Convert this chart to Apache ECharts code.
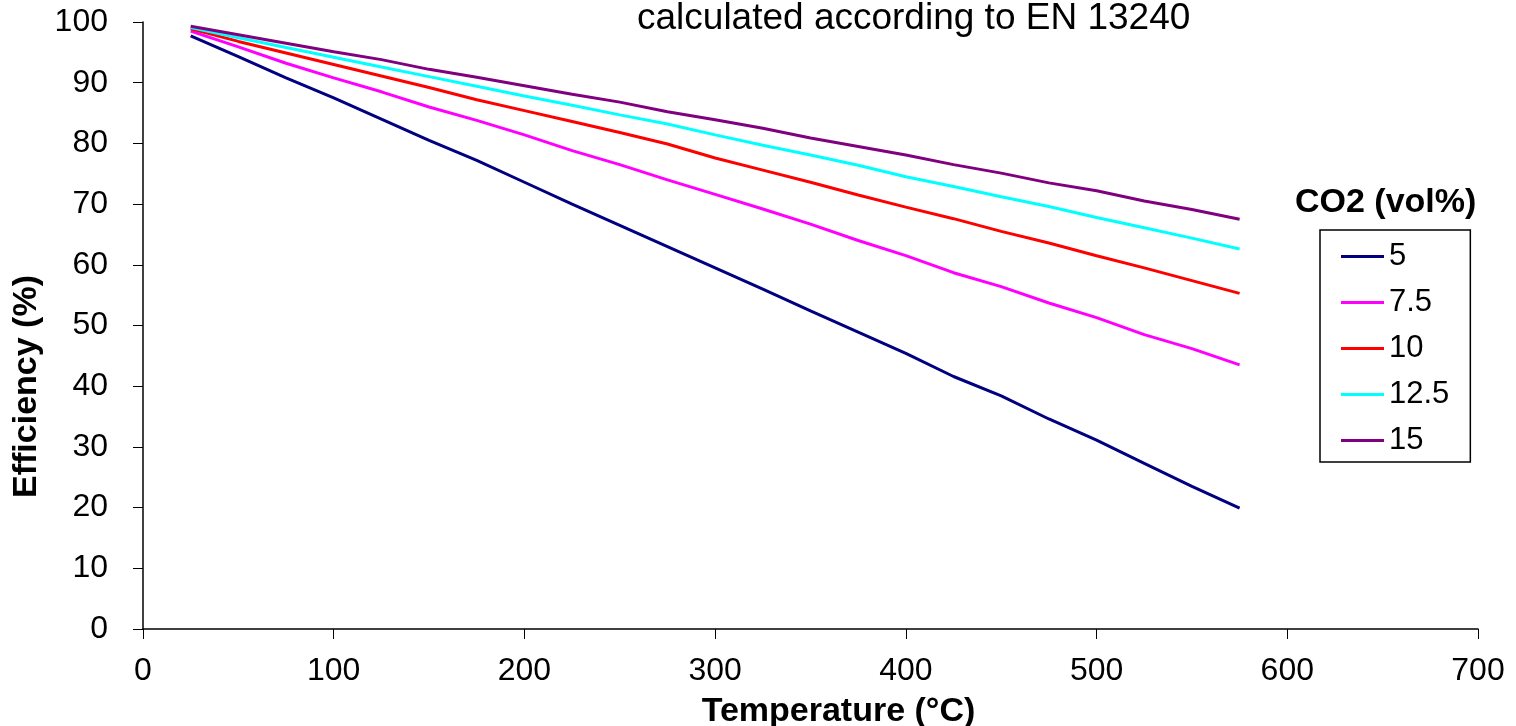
<!DOCTYPE html>
<html>
<head>
<meta charset="utf-8">
<title>Efficiency vs temperature</title>
<script src="https://cdn.jsdelivr.net/npm/echarts@6/dist/echarts.min.js"></script>
<style>
  html, body { margin: 0; padding: 0; background: #fff; }
  #main { width: 1516px; height: 726px; }
</style>
</head>
<body>
<div id="main"></div>
<script>
// flue gas temperature (°C)
var temps = [25, 50, 75, 100, 125, 150, 175, 200, 225, 250, 275, 300, 325, 350, 375, 400, 425, 450, 475, 500, 525, 550, 575];

// efficiency (%) per CO2 content
var co2_5    = [97.7, 94.3, 90.8, 87.5, 84.0, 80.5, 77.2, 73.6, 70.0, 66.5, 63.0, 59.5, 56.0, 52.4, 48.9, 45.4, 41.6, 38.4, 34.6, 31.1, 27.3, 23.5, 19.9];
var co2_7_5  = [98.5, 95.9, 93.2, 90.8, 88.5, 86.0, 83.8, 81.4, 78.8, 76.5, 74.0, 71.6, 69.2, 66.7, 64.0, 61.5, 58.7, 56.4, 53.7, 51.3, 48.5, 46.2, 43.5];
var co2_10   = [98.9, 96.8, 94.9, 93.0, 91.1, 89.2, 87.2, 85.4, 83.6, 81.8, 79.9, 77.6, 75.6, 73.6, 71.5, 69.5, 67.6, 65.5, 63.6, 61.5, 59.5, 57.4, 55.3];
var co2_12_5 = [99.1, 97.4, 95.8, 94.2, 92.6, 91.0, 89.4, 87.8, 86.3, 84.7, 83.2, 81.4, 79.7, 78.1, 76.4, 74.5, 72.9, 71.2, 69.6, 67.8, 66.1, 64.4, 62.6];
var co2_15   = [99.3, 97.9, 96.5, 95.1, 93.8, 92.2, 90.9, 89.5, 88.1, 86.8, 85.2, 83.9, 82.5, 80.9, 79.5, 78.1, 76.5, 75.1, 73.5, 72.2, 70.5, 69.1, 67.5];

var seriesNames = ['5', '7.5', '10', '12.5', '15'];
var seriesColors = ['#000080', '#FF00FF', '#FF0000', '#00FFFF', '#800080'];
var seriesValues = [co2_5, co2_7_5, co2_10, co2_12_5, co2_15];

var font = "'Liberation Sans', Arial, sans-serif";

function pairs(vals) {
    return temps.map(function (t, i) { return [t, vals[i]]; });
}

var myChart = echarts.init(document.getElementById('main'));
var option = {
    animation: false,
    backgroundColor: '#fff',
    title: [{
        text: 'calculated according to EN 13240',
        left: 637,
        top: 0,
        padding: 0,
        textStyle: { fontFamily: font, fontSize: 37, fontWeight: 'normal', color: '#000' }
    }, {
        text: 'CO2 (vol%)',
        left: 1295,
        top: 186,
        padding: 0,
        textStyle: { fontFamily: font, fontSize: 34, fontWeight: 'bold', color: '#000' }
    }],
    legend: {
        orient: 'vertical',
        left: 1320,
        top: 230,
        padding: [11, 21, 6, 21],
        itemGap: 15,
        itemWidth: 43,
        itemHeight: 3,
        icon: 'rect',
        borderColor: '#000',
        borderWidth: 1.5,
        textStyle: { fontFamily: font, fontSize: 31, color: '#000', lineHeight: 31 },
        data: seriesNames
    },
    grid: {
        left: 143,
        right: 38,
        top: 22,
        bottom: 97,
        outerBoundsMode: 'none'
    },
    xAxis: {
        type: 'value',
        min: 0,
        max: 700,
        interval: 100,
        name: 'Temperature (°C)',
        nameLocation: 'middle',
        nameGap: 66,
        nameTextStyle: { fontFamily: font, fontSize: 34, fontWeight: 'bold', color: '#000', padding: [0, 0, 0, 56] },
        axisLine: { show: true, lineStyle: { color: '#000', width: 1.5 } },
        axisTick: { show: true, length: 10, lineStyle: { color: '#000' } },
        axisLabel: { fontFamily: font, fontSize: 32, color: '#000', margin: 26 },
        splitLine: { show: false }
    },
    yAxis: {
        type: 'value',
        min: 0,
        max: 100,
        interval: 10,
        name: 'Efficiency (%)',
        nameLocation: 'middle',
        nameGap: 97,
        nameTextStyle: { fontFamily: font, fontSize: 34, fontWeight: 'bold', color: '#000', padding: [0, 122, 0, 0] },
        axisLine: { show: true, lineStyle: { color: '#000', width: 1.5 } },
        axisTick: { show: true, length: 10, lineStyle: { color: '#000' } },
        axisLabel: { fontFamily: font, fontSize: 32, color: '#000', margin: 35 },
        splitLine: { show: false }
    },
    series: seriesNames.map(function (name, i) {
        return {
            name: name,
            type: 'line',
            data: pairs(seriesValues[i]),
            showSymbol: false,
            symbol: 'none',
            color: seriesColors[i],
            lineStyle: { width: 3, color: seriesColors[i] }
        };
    })
};

myChart.setOption(option);
</script>
</body>
</html>
